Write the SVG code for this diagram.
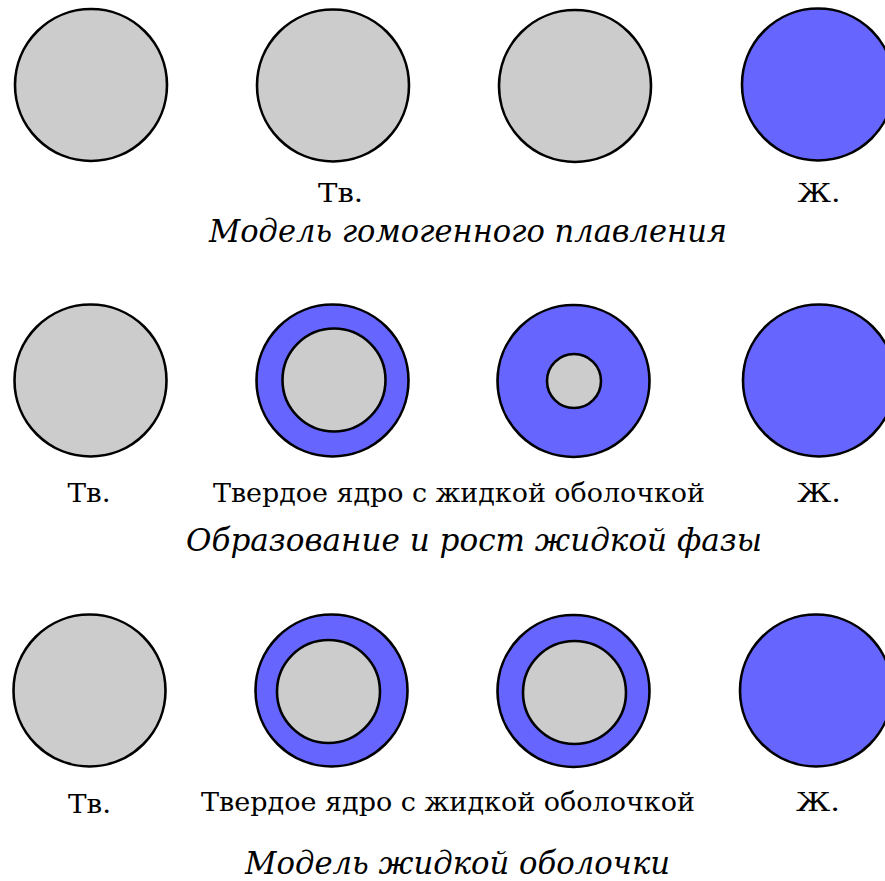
<svg xmlns="http://www.w3.org/2000/svg" width="885" height="881" viewBox="0 0 885 881">
<style>
.c{stroke:#000;stroke-width:2.6}
.s{fill:#cccccc}
.l{fill:#6666ff}
.t{font-family:'DejaVu Serif','Liberation Serif',serif;font-size:26px;fill:#000;text-anchor:middle}
.i{font-family:'DejaVu Serif','Liberation Serif',serif;font-size:31px;font-style:italic;fill:#000;text-anchor:middle}
</style>
<rect width="885" height="881" fill="#fff"/>
<g id="row1">
<g id="r1c1"><circle class="c s" cx="91" cy="85" r="76"/></g>
<g id="r1c2"><circle class="c s" cx="333" cy="85.5" r="76"/></g>
<g id="r1c3"><circle class="c s" cx="575" cy="86" r="76"/></g>
<g id="r1c4"><circle class="c l" cx="818" cy="84.5" r="76"/></g>
<text class="t" x="340.5" y="202" textLength="45" lengthAdjust="spacingAndGlyphs">Тв.</text>
<text class="t" x="819" y="202" textLength="43" lengthAdjust="spacingAndGlyphs">Ж.</text>
<text class="i" x="468" y="242" textLength="518" lengthAdjust="spacingAndGlyphs">Модель гомогенного плавления</text>
</g>
<g id="row2">
<g id="r2c1"><circle class="c s" cx="90.5" cy="380.5" r="76"/></g>
<g id="r2c2"><circle class="c l" cx="332.5" cy="380.5" r="76"/><circle class="c s" cx="334" cy="380" r="51.5"/></g>
<g id="r2c3"><circle class="c l" cx="573.5" cy="381" r="76"/><circle class="c s" cx="574" cy="381" r="27"/></g>
<g id="r2c4"><circle class="c l" cx="819" cy="380.5" r="76"/></g>
<text class="t" x="89" y="502" textLength="43" lengthAdjust="spacingAndGlyphs">Тв.</text>
<text class="t" x="459" y="502" textLength="492" lengthAdjust="spacingAndGlyphs">Твердое ядро с жидкой оболочкой</text>
<text class="t" x="819" y="502" textLength="44" lengthAdjust="spacingAndGlyphs">Ж.</text>
<text class="i" x="474" y="551" textLength="576" lengthAdjust="spacingAndGlyphs">Образование и рост жидкой фазы</text>
</g>
<g id="row3">
<g id="r3c1"><circle class="c s" cx="89.5" cy="690.5" r="76"/></g>
<g id="r3c2"><circle class="c l" cx="331.5" cy="690.5" r="76"/><circle class="c s" cx="328.5" cy="691.5" r="51.5"/></g>
<g id="r3c3"><circle class="c l" cx="573.5" cy="691" r="76"/><circle class="c s" cx="574.5" cy="692.5" r="51.5"/></g>
<g id="r3c4"><circle class="c l" cx="816" cy="690.5" r="76"/></g>
<text class="t" x="89.5" y="813" textLength="43" lengthAdjust="spacingAndGlyphs">Тв.</text>
<text class="t" x="448" y="811" textLength="494" lengthAdjust="spacingAndGlyphs">Твердое ядро с жидкой оболочкой</text>
<text class="t" x="818" y="811" textLength="44" lengthAdjust="spacingAndGlyphs">Ж.</text>
<text class="i" x="457.5" y="874" textLength="425" lengthAdjust="spacingAndGlyphs">Модель жидкой оболочки</text>
</g>
</svg>
